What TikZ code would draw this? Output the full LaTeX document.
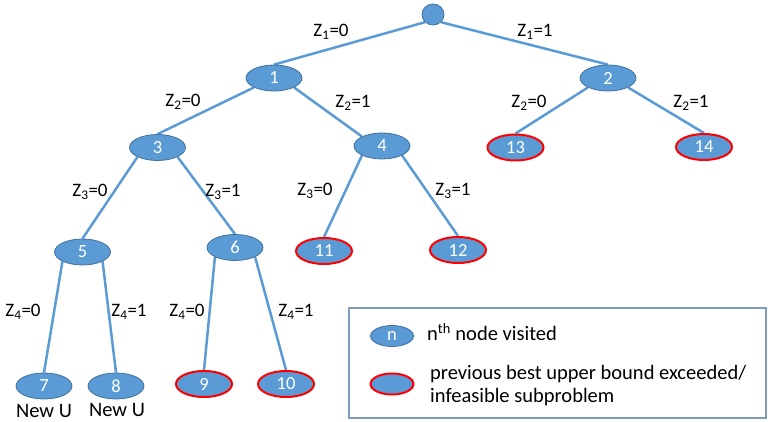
\documentclass[tikz,border=0pt]{standalone}
\usepackage{fontspec}
\setmainfont{Carlito}
\usetikzlibrary{shapes.geometric,backgrounds}
\definecolor{nodefill}{HTML}{5B9BD5}
\definecolor{nodeline}{HTML}{41719C}
\definecolor{boxline}{HTML}{7F9CC0}
\definecolor{badline}{HTML}{FF0000}
\tikzset{
  tn/.style={ellipse, draw=nodeline, line width=0.8pt, fill=nodefill,
    minimum width=56pt, minimum height=26pt, inner sep=0pt, text=white,
    font=\fontsize{18.5}{20}\selectfont},
  bad/.style={tn, draw=badline, line width=2pt},
  edgeline/.style={draw=nodefill, line width=2.5pt},
  lbl/.style={font=\fontsize{19}{20}\selectfont, inner sep=0pt, text=black},
  bigtxt/.style={font=\fontsize{20.5}{23}\selectfont, inner sep=0pt, text=black},
}
\begin{document}
\begin{tikzpicture}[x=1pt,y=-1pt]
\useasboundingbox (0,0) rectangle (774,422);
% nodes
\node[tn, minimum width=22pt, minimum height=21pt] (r) at (433,14.5) {};
\node[tn] (n1) at (274,78) {1};
\node[tn] (n2) at (608,78) {2};
\node[tn] (n3) at (157.5,147.5) {3};
\node[tn] (n4) at (382,146) {4};
\node[bad] (n13) at (515.5,147.5) {13};
\node[bad] (n14) at (704,147) {14};
\node[tn] (n5) at (82.5,252) {5};
\node[tn] (n6) at (235,247.5) {6};
\node[bad] (n11) at (324,251) {11};
\node[bad] (n12) at (458,250) {12};
\node[tn] (n7) at (44,386) {7};
\node[tn] (n8) at (116,386) {8};
\node[bad] (n9) at (204,384) {9};
\node[bad] (n10) at (286,384) {10};
% edges
\begin{scope}[on background layer]
\draw[edgeline] (r.south west) -- (n1.north);
\draw[edgeline] (r.south east) -- (n2.north);
\draw[edgeline] (n1.south west) -- (n3.north);
\draw[edgeline] (n1.south east) -- (n4.north west);
\draw[edgeline] (n2.south west) -- (n13.north);
\draw[edgeline] (n2.south east) -- (n14.north);
\draw[edgeline] (n3.south west) -- (n5.north);
\draw[edgeline] (n3.south east) -- (n6.north);
\draw[edgeline] (n4.south west) -- (n11.north);
\draw[edgeline] (n4.south east) -- (n12.north);
\draw[edgeline] (n5.south west) -- (n7.north);
\draw[edgeline] (n5.south east) -- (n8.north);
\draw[edgeline] (n6.south west) -- (n9.north);
\draw[edgeline] (n6.south east) -- (n10.north);
\end{scope}
% edge labels
\node[lbl] (l1) at (331,32) {Z\textsubscript{1}=0};
\node[lbl] (l2) at (535,32) {Z\textsubscript{1}=1};
\node[lbl] (l3) at (183,102) {Z\textsubscript{2}=0};
\node[lbl] (l4) at (353,103) {Z\textsubscript{2}=1};
\node[lbl] (l5) at (529,103) {Z\textsubscript{2}=0};
\node[lbl] (l6) at (691,103) {Z\textsubscript{2}=1};
\node[lbl] (l7) at (90,192) {Z\textsubscript{3}=0};
\node[lbl] (l8) at (223,192) {Z\textsubscript{3}=1};
\node[lbl] (l9) at (315,191) {Z\textsubscript{3}=0};
\node[lbl] (l10) at (453,191) {Z\textsubscript{3}=1};
\node[lbl] (l11) at (23,312) {Z\textsubscript{4}=0};
\node[lbl] (l12) at (129,312) {Z\textsubscript{4}=1};
\node[lbl] (l13) at (187,312) {Z\textsubscript{4}=0};
\node[lbl] (l14) at (296,312) {Z\textsubscript{4}=1};
% New U
\node[bigtxt] (u1) at (44,411) {New U};
\node[bigtxt] (u2) at (117,410) {New U};
% legend
\draw[boxline, line width=1.2pt] (349,308) rectangle (766,418);
\node[tn, minimum width=43pt, minimum height=21pt] (k1) at (392,336) {n};
\node[bad, minimum width=43pt, minimum height=21pt] (k2) at (392,384) {};
\node[bigtxt, anchor=west] (t1) at (427,332) {n\textsuperscript{th} node visited};
\node[bigtxt, anchor=west, align=left] (t2) at (430,386) {previous best upper bound exceeded/\\infeasible subproblem};
\end{tikzpicture}
\end{document}
